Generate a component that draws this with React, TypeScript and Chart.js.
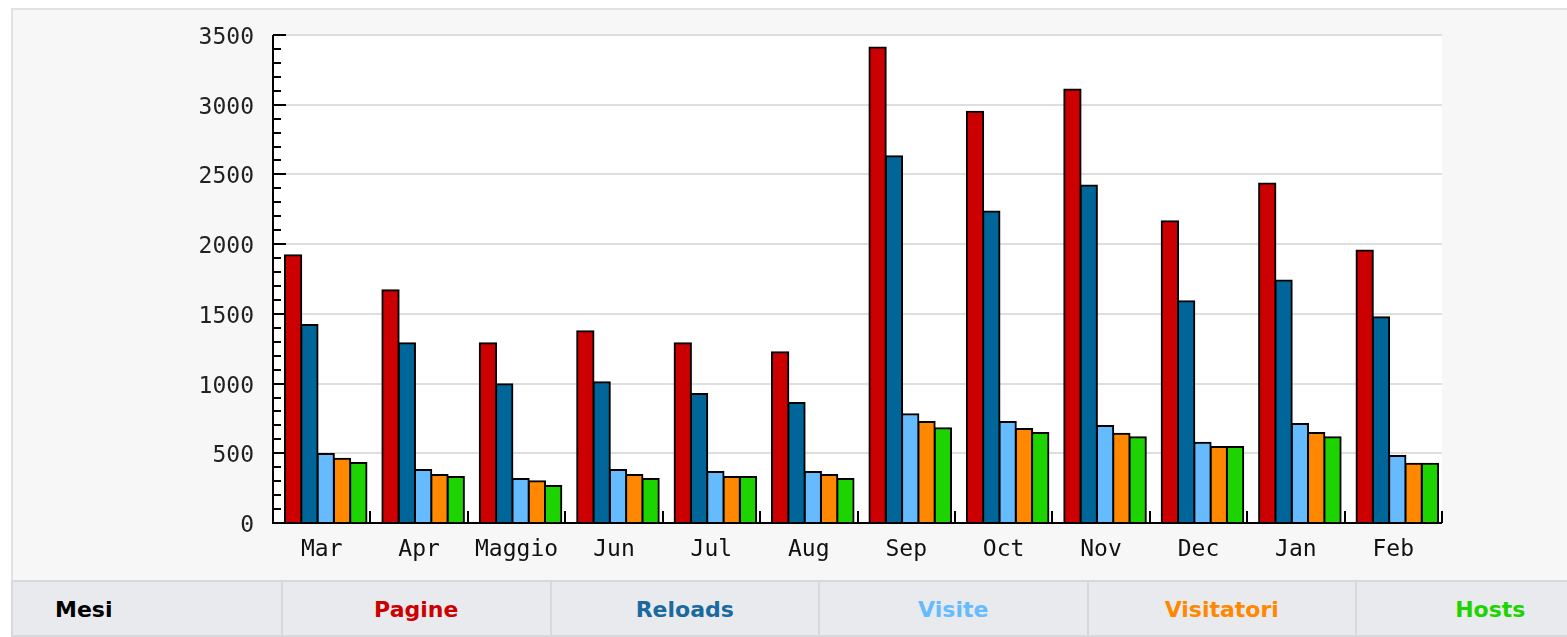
import React, { useEffect, useRef } from "react";
import { Chart, registerables } from "chart.js";

Chart.register(...registerables);

const categories = ["Mar", "Apr", "Maggio", "Jun", "Jul", "Aug", "Sep", "Oct", "Nov", "Dec", "Jan", "Feb"];
const pagine = [1920, 1670, 1290, 1375, 1290, 1225, 3410, 2950, 3110, 2165, 2435, 1955];
const reloads = [1420, 1290, 995, 1010, 925, 860, 2630, 2235, 2420, 1590, 1740, 1475];
const visite = [495, 380, 315, 380, 365, 365, 780, 725, 695, 575, 710, 480];
const visitatori = [460, 345, 300, 345, 330, 345, 725, 675, 640, 545, 645, 425];
const hosts = [430, 330, 265, 315, 330, 315, 680, 645, 615, 545, 615, 425];

const seriesNames = ["Pagine", "Reloads", "Visite", "Visitatori", "Hosts"];
const seriesColors = ["#cc0000", "#006699", "#66bbff", "#ff8800", "#1ed400"];
const headerLabel = "Mesi";

const Y_MAX = 3500;
const MAJOR_STEP = 500;
const MINOR_STEP = 100;
// the original draws its bar groups a few pixels right of the category centre
const DX = -4;

const decoPlugin = {
  id: "axisDeco",
  beforeDraw(chart: any) {
    const { ctx, chartArea: a, scales } = chart;
    const y = scales.y;
    ctx.save();
    ctx.fillStyle = "#ffffff";
    ctx.fillRect(a.left + DX, a.top, a.right - a.left, a.bottom - a.top);
    ctx.strokeStyle = "#dedede";
    ctx.lineWidth = 2;
    ctx.beginPath();
    for (let v = MAJOR_STEP; v <= Y_MAX; v += MAJOR_STEP) {
      const py = Math.round(y.getPixelForValue(v));
      ctx.moveTo(a.left + DX, py);
      ctx.lineTo(a.right + DX, py);
    }
    ctx.stroke();
    ctx.restore();
  },
  afterDatasetsDraw(chart: any) {
    const { ctx, chartArea: a, scales } = chart;
    const y = scales.y;
    const L = a.left + DX;
    const R = a.right + DX;
    ctx.save();
    ctx.strokeStyle = "#000";
    ctx.lineWidth = 2;
    ctx.beginPath();
    ctx.moveTo(L, y.getPixelForValue(Y_MAX));
    ctx.lineTo(L, a.bottom);
    ctx.lineTo(R, a.bottom);
    for (let v = 0; v <= Y_MAX; v += MINOR_STEP) {
      const py = Math.round(y.getPixelForValue(v));
      const len = v % MAJOR_STEP === 0 ? 13 : 8;
      ctx.moveTo(L, py);
      ctx.lineTo(L + len, py);
    }
    const n = categories.length;
    for (let i = 0; i <= n; i++) {
      const px = Math.round(L + ((R - L) * i) / n);
      ctx.moveTo(px, a.bottom);
      ctx.lineTo(px, a.bottom - 12);
    }
    ctx.stroke();
    ctx.restore();
  },
};

export default function App() {
  const ref = useRef<HTMLCanvasElement | null>(null);

  useEffect(() => {
    if (!ref.current) return;
    const values = [pagine, reloads, visite, visitatori, hosts];
    const chart = new Chart(ref.current, {
      type: "bar",
      data: {
        labels: categories,
        datasets: seriesNames.map((name, i) => ({
          label: name,
          data: values[i],
          backgroundColor: seriesColors[i],
          borderColor: "#000",
          borderWidth: 2,
          inflateAmount: 1,
          barPercentage: 1,
          categoryPercentage: 0.837,
        })),
      },
      options: {
        responsive: false,
        animation: false,
        devicePixelRatio: 1,
        layout: { padding: { left: 0, top: 35, right: 121, bottom: 15 } },
        plugins: { legend: { display: false }, tooltip: { enabled: false } },
        scales: {
          x: {
            grid: { display: false, drawTicks: false },
            border: { display: false },
            ticks: {
              padding: 13,
              labelOffset: DX,
              color: "#111",
              font: { family: "'DejaVu Sans Mono', monospace", size: 23 },
              maxRotation: 0,
              autoSkip: false,
            },
            afterFit(scale: any) {
              scale.height = 40;
            },
          },
          y: {
            min: 0,
            max: Y_MAX,
            grid: { display: false, drawTicks: false },
            border: { display: false },
            ticks: {
              stepSize: MAJOR_STEP,
              padding: 19 - DX,
              labelOffset: 3,
              color: "#222",
              font: { family: "'DejaVu Sans Mono', monospace", size: 23 },
              callback: (v: any) => String(v),
            },
            afterFit(scale: any) {
              scale.width = 273 - DX;
              scale.paddingTop = 10;
              scale.paddingBottom = 10;
            },
          },
        },
      },
      plugins: [decoPlugin],
    });
    return () => chart.destroy();
  }, []);

  const cellW = 268.5;
  const headerCells = [headerLabel, ...seriesNames];
  const headerColors = ["#000", ...seriesColors.map((c, i) => (i === 1 ? "#1a6a9e" : c))];

  return (
    <div
      style={{
        position: "fixed",
        left: 0,
        top: 0,
        width: 1567,
        height: 637,
        overflow: "hidden",
        background: "#fff",
      }}
    >
      <div
        style={{
          position: "absolute",
          left: 11,
          top: 8,
          width: 1600,
          height: 573,
          background: "#f7f7f7",
          borderTop: "2px solid #e2e2e4",
          borderLeft: "2px solid #e2e2e4",
          boxSizing: "border-box",
        }}
      />
      <canvas
        ref={ref}
        width={1567}
        height={578}
        style={{ position: "absolute", left: 0, top: 0, width: 1567, height: 578 }}
      />
      <div
        style={{
          position: "absolute",
          left: 11,
          top: 580,
          width: 1600,
          height: 57,
          background: "#e9eaed",
          borderTop: "2px solid #d8d9dc",
          borderBottom: "2px solid #d8d9dc",
          borderLeft: "2px solid #d8d9dc",
          boxSizing: "border-box",
        }}
      >
        {headerCells.map((t, i) => {
          const left = i === 0 ? 0 : 268 + (i - 1) * cellW;
          const width = i === 0 ? 268 : cellW;
          return (
            <div
              key={t}
              style={{
                position: "absolute",
                left,
                top: 0,
                width,
                height: 54,
                boxSizing: "border-box",
                borderLeft: i === 0 ? "none" : "2px solid #d8d9dc",
                display: "flex",
                alignItems: "center",
                justifyContent: i === 0 ? "flex-start" : "center",
                paddingLeft: i === 0 ? 42 : 0,
                fontFamily: "'DejaVu Sans', sans-serif",
                fontWeight: "bold",
                fontSize: 22,
                color: headerColors[i],
              }}
            >
              {t}
            </div>
          );
        })}
      </div>
    </div>
  );
}
